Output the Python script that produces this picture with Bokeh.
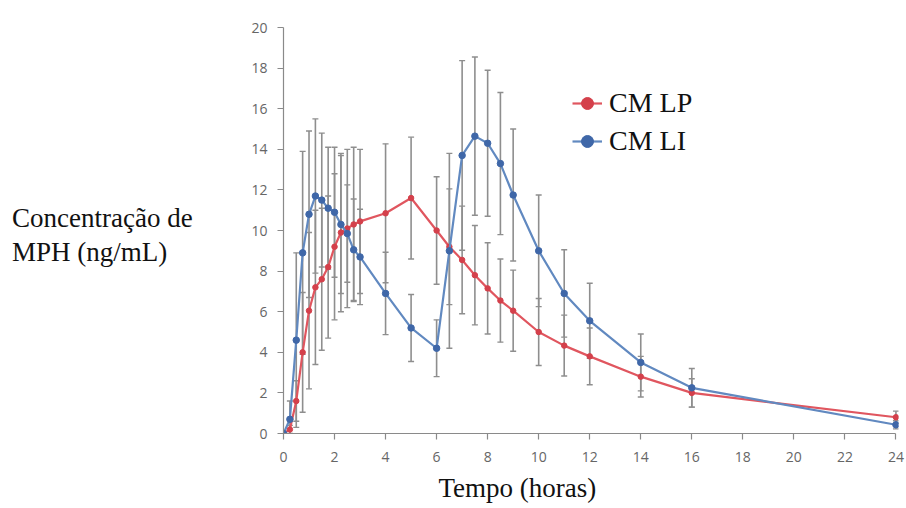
from bokeh.plotting import figure
from bokeh.models import (ColumnDataSource, Whisker, TeeHead, Range1d, Legend,
                          LegendItem, Title, FixedTicker, Div)
from bokeh.layouts import row
from bokeh.embed import file_html
from bokeh.resources import INLINE

# ---- data ----
times = [0, 0.25, 0.5, 0.75, 1, 1.25, 1.5, 1.75, 2, 2.25, 2.5, 2.75, 3,
         4, 5, 6, 6.5, 7, 7.5, 8, 8.5, 9, 10, 11, 12, 14, 16, 24]

lp_mean = [0, 0.2, 1.6, 4.0, 6.05, 7.2, 7.6, 8.2, 9.2, 9.9, 10.1, 10.3, 10.45,
           10.85, 11.6, 10.0, 9.2, 8.55, 7.8, 7.15, 6.55, 6.05, 5.0, 4.33, 3.8,
           2.8, 2.0, 0.8]
lp_sd = [0, 0.2, 1.0, 2.95, 3.85, 3.8, 3.5, 3.5, 3.6, 3.9, 3.9, 3.8, 3.55,
         3.42, 3.0, 2.65, 2.85, 2.65, 2.45, 2.25, 2.05, 2.0, 1.65, 1.5, 1.4,
         1.0, 0.7, 0.3]

li_mean = [0, 0.7, 4.6, 8.9, 10.8, 11.7, 11.5, 11.1, 10.9, 10.3, 9.85, 9.05, 8.7,
           6.9, 5.2, 4.2, 9.0, 13.7, 14.65, 14.3, 13.3, 11.75, 9.0, 6.9, 5.55,
           3.5, 2.25, 0.43]
li_sd = [0, 0.9, 4.3, 5.0, 4.1, 3.8, 3.3, 3.0, 3.2, 3.4, 2.4, 2.5, 2.35,
         2.03, 1.65, 1.4, 4.8, 4.67, 3.9, 3.6, 3.5, 3.25, 2.75, 2.15, 1.85,
         1.4, 0.95, 0.2]

series_names = ["CM LP", "CM LI"]
x_ticks = list(range(0, 25, 2))
y_ticks = list(range(0, 21, 2))

x_title = "Tempo (horas)"
y_title_lines = ["Concentração de", "MPH (ng/mL)"]

# ---- styling ----
RED_LINE, RED_MARK = "#e0565f", "#d4404b"
BLUE_LINE, BLUE_MARK = "#6189c0", "#3f67a8"
BAR = "#8e8e8e"
AXIS = "#8a8a8a"
TICK_TXT = "#666666"
SERIF = "Liberation Serif"
LABEL_W = 200

p = figure(width=906 - LABEL_W, height=508, output_backend="svg",
           toolbar_location=None,
           x_range=Range1d(0, 24.1), y_range=Range1d(0, 20.2),
           min_border_left=283 - LABEL_W, min_border_right=8, min_border_top=23,
           min_border_bottom=75)
p.margin = 0
p.outline_line_color = None
p.xgrid.visible = False
p.ygrid.visible = False
p.background_fill_color = "white"

def make_source(mean, sd):
    return ColumnDataSource(dict(
        t=times, y=mean,
        lo=[m - s for m, s in zip(mean, sd)],
        hi=[m + s for m, s in zip(mean, sd)]))

src_lp = make_source(lp_mean, lp_sd)
src_li = make_source(li_mean, li_sd)

for src in (src_lp, src_li):
    w = Whisker(source=src, base="t", upper="hi", lower="lo",
                line_color=BAR, line_width=1.6,
                upper_head=TeeHead(size=6, line_color=BAR, line_width=1.4),
                lower_head=TeeHead(size=6, line_color=BAR, line_width=1.4))
    p.add_layout(w)

l1 = p.line("t", "y", source=src_lp, line_color=RED_LINE, line_width=2.2)
m1 = p.scatter("t", "y", source=src_lp, size=5.5, fill_color=RED_MARK,
               line_color=RED_MARK)
l2 = p.line("t", "y", source=src_li, line_color=BLUE_LINE, line_width=2.2)
m2 = p.scatter("t", "y", source=src_li, size=6.5, fill_color=BLUE_MARK,
               line_color=BLUE_MARK)

# axes
for ax in (p.xaxis[0], p.yaxis[0]):
    ax.axis_line_color = AXIS
    ax.axis_line_width = 1.2
    ax.major_tick_line_color = AXIS
    ax.major_tick_line_width = 1.2
    ax.major_tick_in = 0
    ax.major_tick_out = 6
    ax.minor_tick_line_color = None
    ax.major_label_text_font = "Open Sans"
    ax.major_label_text_font_size = "14px"
    ax.major_label_text_color = TICK_TXT

p.xaxis.ticker = FixedTicker(ticks=x_ticks)
p.yaxis.ticker = FixedTicker(ticks=y_ticks)
p.xaxis.bounds = (0, 24)
p.yaxis.bounds = (0, 20)
p.xaxis.major_label_standoff = 12
p.yaxis.major_label_standoff = 10

# x title, placed below the axis, shifted left of centre as in the reference
xt = Title(text=x_title, align="left", offset=155, standoff=12,
           text_font=SERIF, text_font_size="27px", text_font_style="normal",
           text_color="#111111")
p.add_layout(xt, "below")

legend = Legend(items=[LegendItem(label=series_names[0], renderers=[l1, m1]),
                       LegendItem(label=series_names[1], renderers=[l2, m2])],
                location=(289, 275))
legend.label_text_font = SERIF
legend.label_text_font_size = "28px"
legend.label_text_color = "#111111"
legend.border_line_color = None
legend.background_fill_alpha = 0
legend.padding = 0
legend.margin = 0
legend.spacing = 4
legend.glyph_width = 30
legend.glyph_height = 34
legend.label_height = 34
legend.label_standoff = 7
p.add_layout(legend)

# y label: horizontal, two left-aligned lines, left of the chart
ylabel = Div(
    text=("<div style=\"margin:201px 0 0 12px; font-family:'Liberation Serif';"
          " font-size:27px; line-height:34px; color:#111111;"
          " white-space:nowrap\">" + "<br>".join(y_title_lines) + "</div>"),
    width=LABEL_W, height=508, margin=0)

layout = row(ylabel, p, spacing=0)
open("out.html", "w").write(file_html(layout, INLINE))
